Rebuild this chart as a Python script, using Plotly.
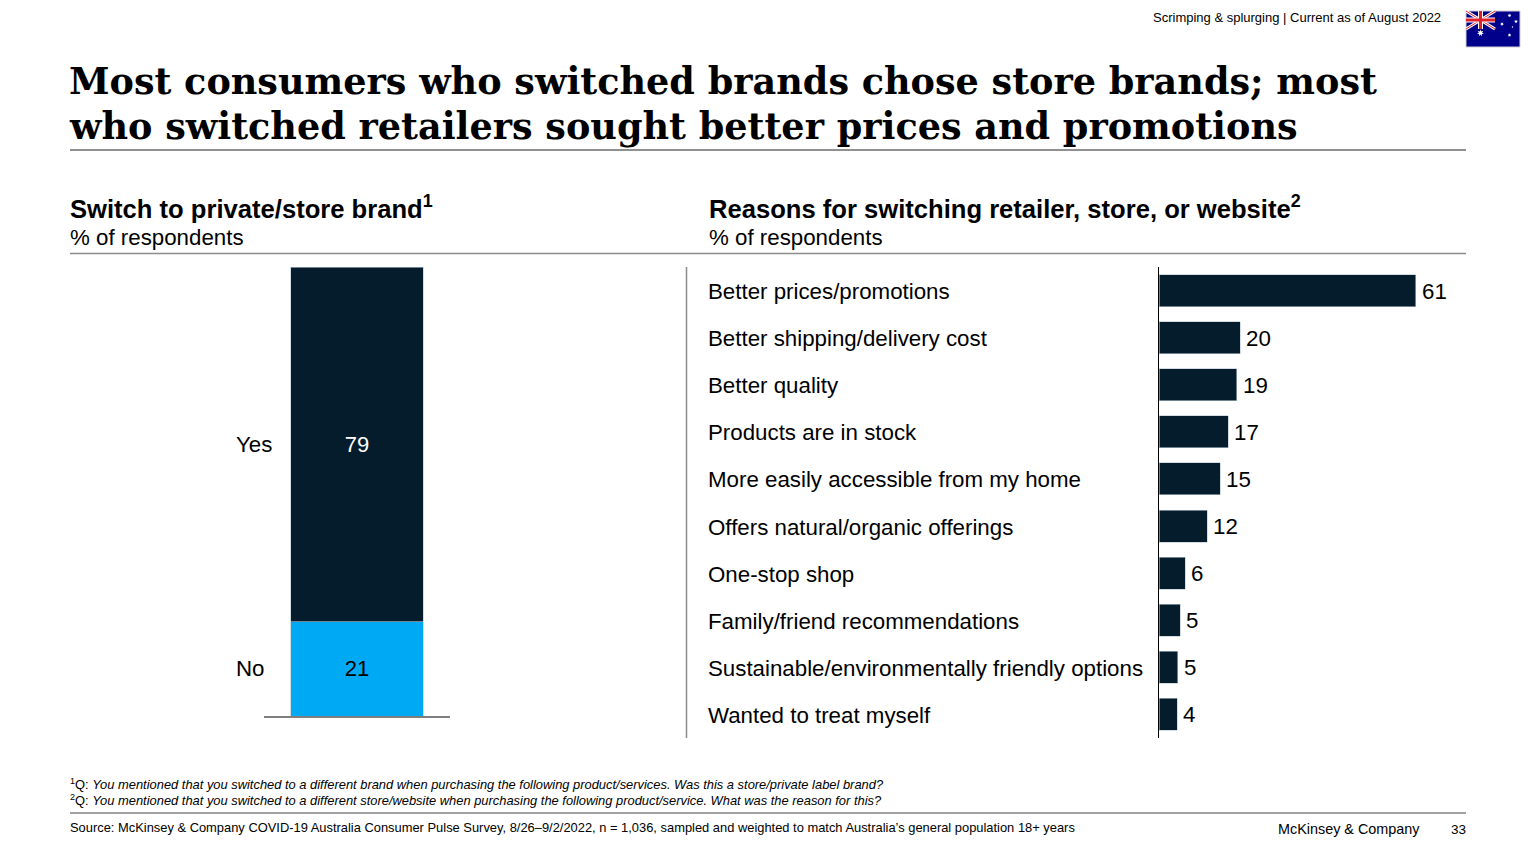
import math
import plotly.graph_objects as go

# ---- data ----
brand_categories = ["Yes", "No"]
brand_values = [79, 21]
brand_colors = ["#051C2C", "#00A9F4"]

reason_categories = [
    "Better prices/promotions", "Better shipping/delivery cost", "Better quality",
    "Products are in stock", "More easily accessible from my home",
    "Offers natural/organic offerings", "One-stop shop",
    "Family/friend recommendations", "Sustainable/environmentally friendly options",
    "Wanted to treat myself",
]
reason_values = [61, 19.3, 18.4, 16.4, 14.5, 11.4, 6.2, 5, 4.4, 4.3]
reason_labels = ["61", "20", "19", "17", "15", "12", "6", "5", "5", "4"]

TITLE_LINES = ["Most consumers who switched brands chose store brands; most",
               "who switched retailers sought better prices and promotions"]
W, H = 1536, 864
SANS = "Liberation Sans, Arial, sans-serif"
DARK = "#051C2C"

def px(x): return x / W
def py(y): return 1 - y / H

fig = go.Figure()

# left stacked column (No at bottom, Yes on top)
for name, val, col in zip(reversed(brand_categories), reversed(brand_values), reversed(brand_colors)):
    fig.add_bar(
        x=["all"], y=[val], name=name, width=0.71, marker=dict(color=col, line=dict(color="#B8C6D0", width=0.6)),
        text=[str(val)], textposition="inside", insidetextanchor="middle",
        textfont=dict(family=SANS, size=22, color="white" if col == DARK else "black"),
        xaxis="x", yaxis="y", showlegend=False, hoverinfo="skip",
    )

# right horizontal bars
fig.add_bar(
    x=reason_values, y=reason_categories, orientation="h", width=0.68,
    marker=dict(color=DARK, line=dict(color="#B8C6D0", width=0.6)),
    xaxis="x2", yaxis="y2", showlegend=False, hoverinfo="skip",
)

fig.update_layout(
    width=W, height=H, margin=dict(l=0, r=0, t=0, b=0), barmode="stack",
    paper_bgcolor="white", plot_bgcolor="white",
    font=dict(family=SANS, color="black"),
    xaxis=dict(domain=[px(264), px(450)], showticklabels=False, ticks="", showgrid=False, zeroline=False,
               showline=True, linecolor="#7F7F7F", linewidth=1.5, anchor="y"),
    yaxis=dict(domain=[py(716), py(267)], range=[0, 100], visible=False, anchor="x"),
    xaxis2=dict(domain=[px(1159), px(1159 + 70 * 4.213)], range=[0, 70], visible=False, anchor="y2"),
    yaxis2=dict(domain=[py(738), py(267)], categoryorder="array",
                categoryarray=list(reversed(reason_categories)),
                showticklabels=False, ticks="", showgrid=False, zeroline=False,
                showline=True, linecolor="black", linewidth=1, anchor="x2"),
)

def text(x, y, s, size, anchor="left", color="black", family=SANS):
    fig.add_annotation(xref="paper", yref="paper", x=px(x), y=py(y), text=s, showarrow=False,
                       xanchor=anchor, yanchor="middle", align=anchor,
                       font=dict(family=family, size=size, color=color), borderpad=0, borderwidth=0)

def line(x0, y0, x1, y1, color, width):
    fig.add_shape(type="line", xref="paper", yref="paper", x0=px(x0), y0=py(y0), x1=px(x1), y1=py(y1),
                  line=dict(color=color, width=width))

def star(cx, cy, r, n=7):
    pts = []
    for i in range(2 * n):
        a = math.pi * i / n - math.pi / 2
        rr = r if i % 2 == 0 else r * 0.45
        pts.append((px(cx + rr * math.cos(a)), py(cy + rr * math.sin(a))))
    path = "M " + " L ".join(f"{a:.5f},{b:.5f}" for a, b in pts) + " Z"
    fig.add_shape(type="path", xref="paper", yref="paper", path=path, fillcolor="white", line=dict(width=0))

# category labels
for lab, pos in zip(brand_categories, [60.5, 10.5]):
    fig.add_annotation(xref="paper", yref="y", x=px(234.5), y=pos, text=lab, showarrow=False, xanchor="left",
                       font=dict(family=SANS, size=22.3), borderpad=0)
for c, v, l in zip(reason_categories, reason_values, reason_labels):
    fig.add_annotation(xref="paper", yref="y2", x=px(707), y=c, text=c, showarrow=False, xanchor="left",
                       yshift=-1, font=dict(family=SANS, size=22.3), borderpad=0)
    fig.add_annotation(xref="x2", yref="y2", x=v, y=c, text=l, showarrow=False, xanchor="left",
                       xshift=5, yshift=-0.5, font=dict(family=SANS, size=22.3), borderpad=0)

# headings
text(1441, 17.5, "Scrimping &amp; splurging | Current as of August 2022", 13, "right")
for ln, yy in zip(TITLE_LINES, [81, 126]):
    text(69, yy, "<b>" + ln + "</b>", 36.6, family="DejaVu Serif")
line(70, 150, 1466, 150, "#222222", 1)
text(70, 207.5, "<b>Switch to private/store brand<sup>1</sup></b>", 25.6)
text(70, 237, "% of respondents", 22.3)
text(709, 207.5, "<b>Reasons for switching retailer, store, or website<sup>2</sup></b>", 25.6)
text(709, 237, "% of respondents", 22.3)
line(70, 253.5, 1466, 253.5, "#8C8C8C", 1.5)
line(686.5, 267, 686.5, 738, "#8C8C8C", 1.5)

# footnotes
text(70, 784, "<sup>1</sup>Q: <i>You mentioned that you switched to a different brand when purchasing the following product/services. Was this a store/private label brand?</i>", 12.9)
text(70, 799.5, "<sup>2</sup>Q: <i>You mentioned that you switched to a different store/website when purchasing the following product/service. What was the reason for this?</i>", 12.9)
line(70, 813, 1466, 813, "#444444", 1)
text(70, 827.5, "Source: McKinsey &amp; Company COVID-19 Australia Consumer Pulse Survey, 8/26–9/2/2022, n = 1,036, sampled and weighted to match Australia’s general population 18+ years", 12.9)
text(1420, 829, "McKinsey &amp; Company", 14.4, "right")
text(1466, 829, "33", 13.5, "right")

# flag
fig.add_shape(type="rect", xref="paper", yref="paper", x0=px(1466), y0=py(47), x1=px(1520), y1=py(11),
              fillcolor="#00008B", line=dict(color="#D0D0D0", width=1))
line(1466, 11, 1495, 29, "white", 3); line(1466, 29, 1495, 11, "white", 3)
line(1466, 11, 1495, 29, "#E0202A", 1); line(1466, 29, 1495, 11, "#E0202A", 1)
line(1480.5, 11, 1480.5, 29, "white", 5); line(1466, 20, 1495, 20, "white", 5)
line(1480.5, 11, 1480.5, 29, "#E0202A", 3); line(1466, 20, 1495, 20, "#E0202A", 3)
for sx, sy, sr in [(1480.5, 33, 3.6), (1509.5, 15.5, 2), (1502, 24, 2), (1516, 21.5, 2), (1509.5, 35, 2), (1512.5, 27, 1)]:
    star(sx, sy, sr)

fig.write_html("out.html", config={"displayModeBar": False},
               post_script="document.body.style.margin='0';")
